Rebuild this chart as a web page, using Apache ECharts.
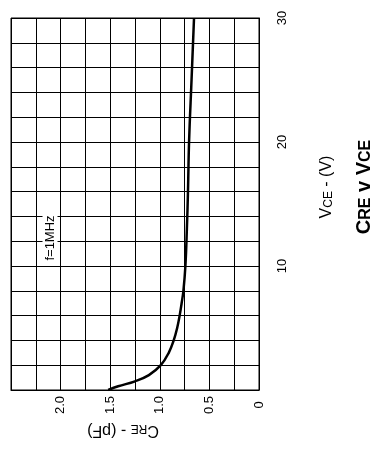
<!DOCTYPE html>
<html>
<head>
<meta charset="utf-8">
<script src="https://cdn.jsdelivr.net/npm/echarts@6/dist/echarts.min.js"></script>
<style>
  html, body { margin: 0; padding: 0; background: #fff; }
  #chart { width: 384px; height: 450px; }
</style>
</head>
<body>
<div id="chart"></div>
<script>
// CRE v VCE, drawn turned a quarter turn (VCE runs up the right side)
var vce = [0, 0.3, 0.7, 1.2, 2, 3, 4, 5, 6, 7, 8, 10, 13, 16, 20, 25, 30];
var cre = [1.52, 1.42, 1.25, 1.11, 0.99, 0.91, 0.86, 0.825, 0.80, 0.78, 0.762, 0.742, 0.727, 0.716, 0.705, 0.68, 0.655];
var creLabels = [0, 0.5, 1.0, 1.5, 2.0];
var vceLabels = [10, 20, 30];

var font = 'Liberation Sans';
var chart = echarts.init(document.getElementById('chart'));

var option = {
  animation: false,
  backgroundColor: '#fff',
  grid: {
    left: 11, right: 125, top: 18, bottom: 60,
    show: true, borderColor: '#000', borderWidth: 1, backgroundColor: '#fff'
  },
  xAxis: {
    type: 'value',
    min: 0, max: 2.5, interval: 0.25,
    inverse: true,
    position: 'bottom',
    axisLine: { show: true, lineStyle: { color: '#000', width: 1 } },
    axisTick: { show: false },
    splitLine: { show: true, lineStyle: { color: '#000', width: 1 } },
    axisLabel: {
      rotate: 90, align: 'center', verticalAlign: 'middle', margin: 15,
      fontFamily: font, fontSize: 13, color: '#000',
      formatter: function (v) {
        var r = Math.round(v * 100) / 100;
        if (creLabels.indexOf(r) < 0) return '';
        return r === 0 ? '0' : r.toFixed(1);
      }
    }
  },
  yAxis: {
    type: 'value',
    min: 0, max: 30, interval: 2,
    position: 'right',
    axisLine: { show: true, lineStyle: { color: '#000', width: 1 } },
    axisTick: { show: false },
    splitLine: { show: true, lineStyle: { color: '#000', width: 1 } },
    axisLabel: {
      rotate: 90, align: 'center', verticalAlign: 'middle', margin: 23,
      fontFamily: font, fontSize: 13, color: '#000',
      formatter: function (v) {
        return vceLabels.indexOf(v) < 0 ? '' : String(v);
      }
    }
  },
  series: [{
    type: 'line',
    data: vce.map(function (v, i) { return [cre[i], v]; }),
    smooth: 0.4,
    showSymbol: false,
    lineStyle: { color: '#000', width: 2.5 }
  }],
  graphic: [
    {
      type: 'text', x: 50, y: 238, rotation: Math.PI / 2, z: 10,
      style: {
        text: 'f=1MHz', fill: '#000', font: '13px ' + font,
        align: 'center', verticalAlign: 'middle',
        backgroundColor: '#fff', padding: [1, 2]
      }
    },
    {
      type: 'text', x: 326, y: 187, rotation: Math.PI / 2,
      style: {
        text: '{a|V}{b|CE}{a| - (V)}', fill: '#000',
        align: 'center', verticalAlign: 'middle',
        rich: {
          a: { fontFamily: font, fontSize: 16, verticalAlign: 'bottom', lineHeight: 18 },
          b: { fontFamily: font, fontSize: 12, verticalAlign: 'bottom', lineHeight: 18 }
        }
      }
    },
    {
      type: 'text', x: 363, y: 187, rotation: Math.PI / 2,
      style: {
        text: '{a|C}{b|RE}{a| v V}{b|CE}', fill: '#000',
        align: 'center', verticalAlign: 'middle',
        rich: {
          a: { fontFamily: font, fontSize: 20, fontWeight: 'bold', verticalAlign: 'bottom', lineHeight: 22 },
          b: { fontFamily: font, fontSize: 16, fontWeight: 'bold', verticalAlign: 'bottom', lineHeight: 22 }
        }
      }
    },
    {
      type: 'text', x: 123, y: 431, rotation: Math.PI,
      style: {
        text: '{a|C}{b|RE}{a| - (pF)}', fill: '#000',
        align: 'center', verticalAlign: 'middle',
        rich: {
          a: { fontFamily: font, fontSize: 16, verticalAlign: 'bottom', lineHeight: 18 },
          b: { fontFamily: font, fontSize: 12, verticalAlign: 'bottom', lineHeight: 18 }
        }
      }
    }
  ]
};

chart.setOption(option);
</script>
</body>
</html>
